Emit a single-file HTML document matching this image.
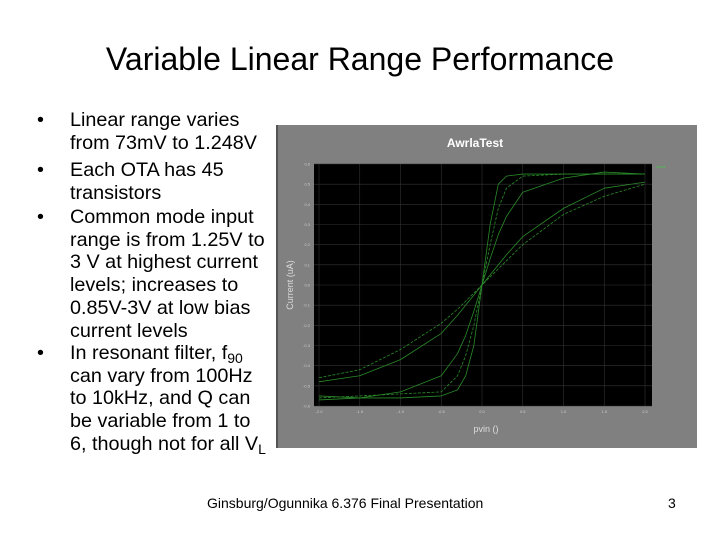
<!DOCTYPE html>
<html><head><meta charset="utf-8"><style>
body{margin:0;width:720px;height:540px;background:#fff;position:relative;overflow:hidden;font-family:"Liberation Sans",Arial,sans-serif;color:#000}
.t{position:absolute;white-space:nowrap}
.b{position:absolute;font-size:19.8px;line-height:22.7px;white-space:nowrap}
</style></head><body>
<div class="t" style="left:0;width:720px;text-align:center;top:41px;font-size:32px">Variable Linear Range Performance</div>
<div>
<div class="b" style="left:37px;top:109px">•</div>
<div class="b" style="left:70px;top:109px">Linear range varies<br>from 73mV to 1.248V</div>
<div class="b" style="left:37px;top:159px">•</div>
<div class="b" style="left:70px;top:159px">Each OTA has 45<br>transistors</div>
<div class="b" style="left:37px;top:206px">•</div>
<div class="b" style="left:70px;top:206px">Common mode input<br>range is from 1.25V to<br>3 V at highest current<br>levels; increases to<br>0.85V-3V at low bias<br>current levels</div>
<div class="b" style="left:37px;top:342px">•</div>
<div class="b" style="left:70px;top:342px">In resonant filter, f<sub style="font-size:14px;vertical-align:-4px;line-height:0">90</sub><br>can vary from 100Hz<br>to 10kHz, and Q can<br>be variable from 1 to<br>6, though not for all V<sub style="font-size:14px;vertical-align:-4px;line-height:0">L</sub></div>
</div>
<div class="t" style="left:207px;top:495px;font-size:14px">Ginsburg/Ogunnika 6.376 Final Presentation</div>
<div class="t" style="left:668px;top:495px;font-size:14px">3</div>
<svg id="chart" width="720" height="540" style="position:absolute;left:0;top:0" xmlns="http://www.w3.org/2000/svg">
<rect x="276" y="125" width="421" height="323" fill="#808080"/>
<rect x="276" y="125" width="2" height="323" fill="#555"/>
<text x="475" y="147" font-size="12" font-weight="bold" fill="#fff" text-anchor="middle" font-family="Liberation Sans, sans-serif">AwrlaTest</text>
<rect x="314" y="164" width="338" height="242" fill="#000"/>
<g id="grid"></g><g id="curves"></g><g id="ticks"></g>
<text x="486" y="432" font-size="9" fill="#ddd" text-anchor="middle" font-family="Liberation Sans, sans-serif">pvin ()</text>
<text transform="translate(293,285) rotate(-90)" font-size="9" fill="#ddd" text-anchor="middle" font-family="Liberation Sans, sans-serif">Current (uA)</text>
<text x="656" y="168" font-size="4" fill="#4c4">curve</text>
</svg>
<script>
const xTicks=[-2.0,-1.5,-1.0,-0.5,0.0,0.5,1.0,1.5,2.0];
const yTicks=[0.6,0.5,0.4,0.3,0.2,0.1,0.0,-0.1,-0.2,-0.3,-0.4,-0.5,-0.6];
const xVals=[-2,-1.5,-1,-0.5,-0.3,-0.2,-0.1,0,0.1,0.2,0.3,0.5,1,1.5,2];
const curveA=[-0.55,-0.56,-0.56,-0.55,-0.52,-0.45,-0.3,0,0.3,0.5,0.54,0.55,0.55,0.55,0.55];
const curveB=[-0.56,-0.55,-0.54,-0.53,-0.45,-0.35,-0.2,0,0.2,0.38,0.48,0.54,0.55,0.55,0.55];
const curveC=[-0.57,-0.56,-0.53,-0.45,-0.34,-0.25,-0.13,0,0.13,0.25,0.34,0.46,0.53,0.56,0.55];
const curveD=[-0.46,-0.42,-0.32,-0.19,-0.12,-0.08,-0.04,0,0.04,0.08,0.12,0.2,0.35,0.44,0.50];
const curveE=[-0.48,-0.45,-0.37,-0.24,-0.15,-0.1,-0.05,0,0.05,0.1,0.15,0.24,0.38,0.48,0.51];
const series=[curveA,curveB,curveC,curveD,curveE];
const NS="http://www.w3.org/2000/svg";
const X0=319,X1=645,Y0=164,Y1=406;
function sx(v){return X0+(v+2)/4*(X1-X0);}
function sy(v){return Y0+(0.6-v)/1.2*(Y1-Y0);}
const grid=document.getElementById('grid'),ticks=document.getElementById('ticks'),cg=document.getElementById('curves');
xTicks.forEach(v=>{
  const l=document.createElementNS(NS,'line');
  
  
  l.setAttribute('x1',sx(v));l.setAttribute('x2',sx(v));l.setAttribute('y1',Y0);l.setAttribute('y2',Y1);
  l.setAttribute('stroke','#333');l.setAttribute('stroke-width','0.6');grid.appendChild(l);
  const t=document.createElementNS(NS,'text');
  
  
  t.setAttribute('x',sx(v));t.setAttribute('y',413);t.setAttribute('font-size','4');t.setAttribute('fill','#ccc');t.setAttribute('text-anchor','middle');
  t.textContent=v.toFixed(1);ticks.appendChild(t);
});
yTicks.forEach(v=>{
  const l=document.createElementNS(NS,'line');
  
  
  l.setAttribute('x1',314);l.setAttribute('x2',652);l.setAttribute('y1',sy(v));l.setAttribute('y2',sy(v));
  l.setAttribute('stroke','#333');l.setAttribute('stroke-width','0.6');grid.appendChild(l);
  const t=document.createElementNS(NS,'text');
  
  
  t.setAttribute('x',310);t.setAttribute('y',sy(v)+1.5);t.setAttribute('font-size','4');t.setAttribute('fill','#ccc');t.setAttribute('text-anchor','end');
  t.textContent=v.toFixed(1);ticks.appendChild(t);
});
series.forEach((s,i)=>{
  const p=document.createElementNS(NS,'polyline');
  
  
  p.setAttribute('points',s.map((v,j)=>sx(xVals[j])+','+sy(v)).join(' '));
  p.setAttribute('fill','none');p.setAttribute('stroke','#2a8a2a');p.setAttribute('stroke-width','0.8');
  if(i%2)p.setAttribute('stroke-dasharray','3,1.5');
  p.setAttribute('stroke-linejoin','round');
  cg.appendChild(p);
});
</script>
</body></html>
